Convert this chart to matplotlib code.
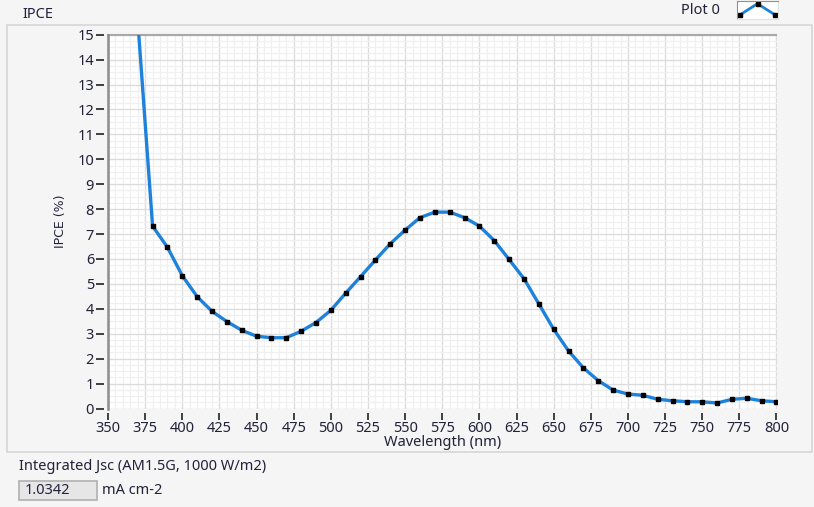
import numpy as np
import matplotlib.pyplot as plt
from matplotlib.patches import Rectangle
from matplotlib.ticker import MultipleLocator

# IPCE spectrum (every 10 nm)
wavelength = [370, 380, 390, 400, 410, 420, 430, 440, 450, 460, 470, 480, 490, 500,
              510, 520, 530, 540, 550, 560, 570, 580, 590, 600, 610, 620, 630, 640,
              650, 660, 670, 680, 690, 700, 710, 720, 730, 740, 750, 760, 770, 780,
              790, 800]
ipce = [15.6, 7.32, 6.47, 5.33, 4.49, 3.90, 3.49, 3.14, 2.90, 2.84, 2.84, 3.10, 3.45, 3.94,
        4.63, 5.29, 5.96, 6.61, 7.16, 7.66, 7.88, 7.88, 7.66, 7.32, 6.74, 5.98, 5.21, 4.20,
        3.18, 2.31, 1.63, 1.12, 0.74, 0.58, 0.53, 0.37, 0.31, 0.27, 0.27, 0.22, 0.37, 0.41,
        0.31, 0.27]
x_ticks = list(range(350, 801, 25))
y_ticks = list(range(0, 16))
jsc_value = "1.0342"

W, H = 814, 507
bg = '#f5f5f5'
txt = '#22223a'
blue = '#1f82da'

plt.rcParams['font.family'] = ['Noto Sans', 'DejaVu Sans']
plt.rcParams['font.weight'] = 'medium'

fig = plt.figure(figsize=(W / 100, H / 100), dpi=100, facecolor=bg)

def fx(px):
    return px / W

def fy(py):
    return 1 - py / H

# panel frame (behind everything)
fig.patches.append(Rectangle((fx(7), fy(452)), fx(812) - fx(7), fy(25) - fy(452),
                             transform=fig.transFigure, facecolor=bg,
                             edgecolor='#d6d6d6', lw=1.2, zorder=-5))

left, right, top, bottom = 108, 776.5, 34.7, 408.5
ax = fig.add_axes([fx(left), fy(bottom), fx(right) - fx(left), fy(top) - fy(bottom)])
ax.set_zorder(2)
ax.set_facecolor('white')

ax.plot(wavelength, ipce, color=blue, lw=2.4, marker='s', markersize=2.3,
        markerfacecolor='black', markeredgecolor='black', zorder=3)

ax.set_xlim(350, 800)
ax.set_ylim(0, 15)
ax.set_xticks(x_ticks)
ax.set_yticks(y_ticks)
ax.xaxis.set_minor_locator(MultipleLocator(5))
ax.yaxis.set_minor_locator(MultipleLocator(0.25))
ax.grid(which='major', color='#dcdcdc', lw=1.0)
ax.grid(which='minor', color='#f0f0f0', lw=0.9)
ax.set_axisbelow(True)

ax.tick_params(which='minor', length=0)
ax.tick_params(which='major', direction='out', length=5, width=1.4, color='#404040',
               labelsize=10.5, labelcolor=txt, pad=1)
ax.tick_params(axis='y', length=6)

for s in ['bottom', 'left']:
    ax.spines[s].set_position(('outward', 3))
    ax.spines[s].set_visible(False)
ax.spines['right'].set_visible(False)
ax.spines['top'].set_color('#a8a8a8')
ax.spines['top'].set_linewidth(1.5)
ax.axvline(350, color='#8c8c8c', lw=1.8, zorder=4, clip_on=False)

fig.text(fx(443), fy(442), 'Wavelength (nm)', ha='center', va='center',
         fontsize=10.5, color=txt)
fig.text(fx(61), fy(221), 'IPCE (%)', ha='center', va='center', rotation=90,
         fontsize=9, color=txt, family=['Liberation Sans Narrow', 'DejaVu Sans'])

fig.text(fx(22), fy(14), 'IPCE', ha='left', va='center', fontsize=10.5,
         fontweight='semibold', color=txt)
fig.text(fx(720), fy(10), 'Plot 0', ha='right', va='center', fontsize=10.5,
         fontweight='semibold', color=txt)

# legend swatch
lax = fig.add_axes([fx(737), fy(19), fx(778) - fx(737), fy(1) - fy(19)])
lax.set_zorder(3)
lax.set_facecolor('white')
lax.plot([0, 1, 2], [0.22, 0.85, 0.22], color=blue, lw=2, marker='s', markersize=2.3,
         markerfacecolor='black', markeredgecolor='black', clip_on=False)
lax.set_xlim(-0.15, 2.15)
lax.set_ylim(0, 1)
lax.set_xticks([])
lax.set_yticks([])
for s in lax.spines.values():
    s.set_color('#e0e0e0')
lax.spines['left'].set_color('#909090')
lax.spines['top'].set_color('#909090')

# integrated Jsc indicator
fig.text(fx(19), fy(467), 'Integrated Jsc (AM1.5G, 1000 W/m2)', ha='left', va='center',
         fontsize=10.5, color=txt)
fig.patches.append(Rectangle((fx(19), fy(500)), fx(97) - fx(19), fy(481) - fy(500),
                             transform=fig.transFigure, facecolor='#e6e6e6',
                             edgecolor='#b0b0b0', lw=1.2))
fig.text(fx(25), fy(491), jsc_value, ha='left', va='center', fontsize=10.5, color=txt)
fig.text(fx(102), fy(490), 'mA cm-2', ha='left', va='center', fontsize=10.5, color=txt)

fig.savefig('out.png', dpi=100, facecolor=bg)
